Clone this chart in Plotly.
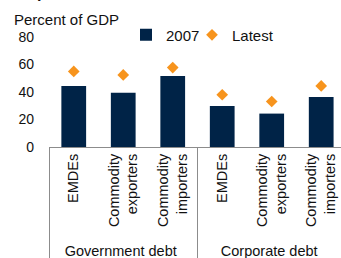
import plotly.graph_objects as go

groups = ["Government debt"] * 3 + ["Corporate debt"] * 3
categories = ["EMDEs", "Commodity<br>exporters", "Commodity<br>importers",
              "EMDEs", "Commodity<br>exporters", "Commodity<br>importers"]
values_2007 = [44.4, 39.4, 51.7, 29.9, 24.3, 36.3]
values_latest = [55.0, 52.4, 57.8, 38.0, 33.1, 44.4]
y_ticks = [0, 20, 40, 60, 80]

NAVY = "#002347"
ORANGE = "#F7941D"
GRAY = "#8c8c8c"
FONT = "Liberation Sans, Arial, sans-serif"

W, H = 341, 258
ML, MR, MT, MB = 49, 0, 37, 108
PW, PH = W - ML - MR, H - MT - MB


def px_x(p):
    return (p - ML) / PW


def px_y(p):
    return 1 + (MT - p) / PH


fig = go.Figure()
fig.add_trace(go.Bar(
    x=[groups, categories], y=values_2007, name="2007", legend="legend",
    marker=dict(color=NAVY, line=dict(width=0)),
))
fig.add_trace(go.Scatter(
    x=[groups, categories], y=values_latest, name="Latest", mode="markers",
    legend="legend2",
    marker=dict(symbol="diamond", color=ORANGE, size=9, line=dict(width=0)),
))

legend_common = dict(orientation="h", xanchor="left", y=px_y(35),
                     yanchor="middle", itemwidth=30, font=dict(size=15),
                     bgcolor="rgba(0,0,0,0)", itemclick=False,
                     itemdoubleclick=False)

fig.update_layout(
    width=W, height=H,
    margin=dict(l=ML, r=MR, t=MT, b=MB, pad=0),
    paper_bgcolor="white", plot_bgcolor="white",
    font=dict(family=FONT, size=14, color="#111111"),
    bargap=0.5,
    showlegend=True,
    legend=dict(x=px_x(126), **legend_common),
    legend2=dict(x=px_x(192), **legend_common),
    xaxis=dict(
        type="multicategory", range=[-0.5, 5.4],
        showline=True, linecolor=GRAY, linewidth=1,
        ticks="", tickangle=-90, tickfont=dict(size=14.5),
        showdividers=True, dividercolor=GRAY, dividerwidth=1,
        showgrid=False, zeroline=False,
    ),
    yaxis=dict(
        range=[0, 80], tickvals=y_ticks, showgrid=False, zeroline=False,
        showline=False, ticks="", ticklabelstandoff=14,
        tickfont=dict(size=14),
    ),
    annotations=[
        dict(text="Percent of GDP", xref="paper", yref="paper",
             x=px_x(12), xanchor="left", y=px_y(19), yanchor="middle",
             showarrow=False, font=dict(size=15, color="#111111")),
        dict(text="<b>p</b>", xref="paper", yref="paper",
             x=px_x(35), xanchor="left", y=px_y(2), yanchor="bottom",
             showarrow=False, font=dict(size=16, color="#111111")),
    ],
)

fig.write_html("out.html", config={"displayModeBar": False},
               post_script="document.body.style.margin='0';")
